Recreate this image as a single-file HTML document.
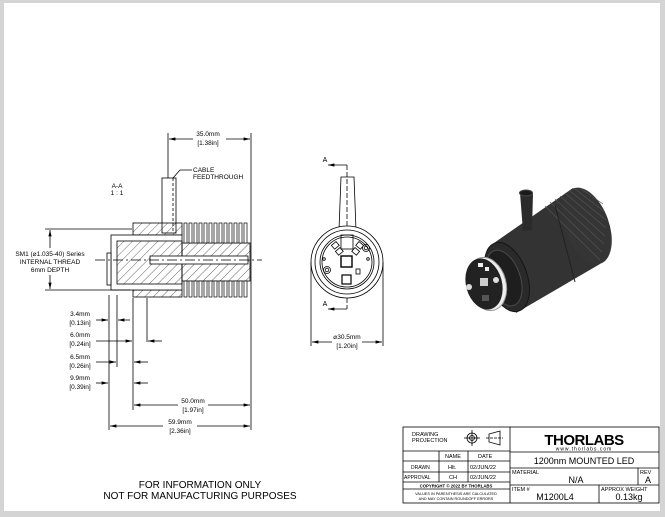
<!DOCTYPE html>
<html><head><meta charset="utf-8"><style>
html,body{margin:0;padding:0;background:#c8c8c8;}
svg{display:block;font-family:"Liberation Sans",sans-serif;}
</style></head><body>
<svg width="665" height="517" viewBox="0 0 665 517" xmlns="http://www.w3.org/2000/svg">
<rect x="0" y="0" width="665" height="517" fill="#d4d4d4"/>
<rect x="4" y="3" width="656" height="508" fill="#fff"/>
<defs>
<pattern id="h" width="6" height="6" patternUnits="userSpaceOnUse" patternTransform="rotate(45)"><line x1="0" y1="0" x2="0" y2="6" stroke="#000" stroke-width="0.6"/></pattern>
<marker id="ar" markerWidth="8" markerHeight="6" refX="8" refY="3" orient="auto"><path d="M0,1 L8,3 L0,5z" fill="#000"/></marker>
</defs>
<g stroke="#000" fill="none" stroke-width="0.8">
<line x1="168" y1="133" x2="168" y2="225"/><line x1="251" y1="133" x2="251" y2="430"/>
<line x1="193" y1="139" x2="169" y2="139" marker-end="url(#ar)"/><line x1="226" y1="139" x2="250" y2="139" marker-end="url(#ar)"/>
<rect x="162" y="178" width="14" height="55" fill="#fff"/>
<line x1="173" y1="178" x2="173" y2="233" stroke-dasharray="3,2"/>
<polyline points="173,178 180,170 192,170"/>
<rect x="133" y="223" width="49" height="12" fill="url(#h)"/>
<rect x="133" y="290" width="49" height="7" fill="url(#h)"/>
<rect x="111" y="235" width="71" height="55" fill="#fff"/>
<rect x="117" y="241" width="65" height="43" fill="url(#h)"/>
<rect x="107" y="253" width="4" height="32" fill="#fff"/>
<rect x="182" y="243" width="68" height="38" fill="url(#h)"/>
<rect x="150" y="256" width="98" height="8" fill="#fff"/>
<line x1="95" y1="260" x2="262" y2="260" stroke-dasharray="10,3,2,3"/>
</g>
<g stroke="#000" stroke-width="0.7" fill="#fff">
<rect x="184" y="223" width="3" height="20"/><rect x="189" y="223" width="3" height="20"/><rect x="194" y="223" width="3" height="20"/><rect x="199" y="223" width="3" height="20"/><rect x="204" y="223" width="3" height="20"/><rect x="209" y="223" width="3" height="20"/><rect x="214" y="223" width="3" height="20"/><rect x="219" y="223" width="3" height="20"/><rect x="224" y="223" width="3" height="20"/><rect x="229" y="223" width="3" height="20"/><rect x="234" y="223" width="3" height="20"/><rect x="239" y="223" width="3" height="20"/><rect x="244" y="223" width="3" height="20"/>
<rect x="184" y="281" width="3" height="16"/><rect x="189" y="281" width="3" height="16"/><rect x="194" y="281" width="3" height="16"/><rect x="199" y="281" width="3" height="16"/><rect x="204" y="281" width="3" height="16"/><rect x="209" y="281" width="3" height="16"/><rect x="214" y="281" width="3" height="16"/><rect x="219" y="281" width="3" height="16"/><rect x="224" y="281" width="3" height="16"/><rect x="229" y="281" width="3" height="16"/><rect x="234" y="281" width="3" height="16"/><rect x="239" y="281" width="3" height="16"/><rect x="244" y="281" width="3" height="16"/>
</g>
<g stroke="#000" fill="none" stroke-width="0.8">
<line x1="45" y1="229" x2="132" y2="229"/><line x1="45" y1="290" x2="130" y2="290"/>
<line x1="50" y1="248" x2="50" y2="230" marker-end="url(#ar)"/><line x1="50" y1="275" x2="50" y2="289" marker-end="url(#ar)"/>
<line x1="109" y1="295" x2="109" y2="430"/><line x1="117" y1="295" x2="117" y2="367"/>
<line x1="133" y1="298" x2="133" y2="410"/><line x1="147" y1="298" x2="147" y2="342"/>
<line x1="96" y1="320" x2="108" y2="320" marker-end="url(#ar)"/><line x1="130" y1="320" x2="118" y2="320" marker-end="url(#ar)"/>
<line x1="96" y1="341" x2="132" y2="341" marker-end="url(#ar)"/><line x1="162" y1="341" x2="148" y2="341" marker-end="url(#ar)"/>
<line x1="96" y1="362" x2="116" y2="362" marker-end="url(#ar)"/><line x1="148" y1="362" x2="134" y2="362" marker-end="url(#ar)"/>
<line x1="96" y1="383" x2="108" y2="383" marker-end="url(#ar)"/><line x1="148" y1="383" x2="134" y2="383" marker-end="url(#ar)"/>
<line x1="178" y1="405" x2="134" y2="405" marker-end="url(#ar)"/><line x1="208" y1="405" x2="250" y2="405" marker-end="url(#ar)"/>
<line x1="163" y1="426" x2="110" y2="426" marker-end="url(#ar)"/><line x1="197" y1="426" x2="250" y2="426" marker-end="url(#ar)"/>
<path d="M341 177 L354 177 L356 230 L339 230 Z" fill="#fff"/>
<line x1="347" y1="165" x2="347" y2="309" stroke-dasharray="5,2"/>
<line x1="347" y1="165" x2="328" y2="165" marker-end="url(#ar)"/><line x1="347" y1="309" x2="328" y2="309" marker-end="url(#ar)"/>
<circle cx="347" cy="262" r="36" fill="#fff"/><circle cx="347" cy="262" r="32"/>
<circle cx="347" cy="262" r="27"/><circle cx="347" cy="262" r="25"/>
<rect x="341" y="235" width="12" height="14"/>
<rect x="332" y="243" width="6" height="5" transform="rotate(-40 335 245)"/><rect x="357" y="243" width="6" height="5" transform="rotate(40 360 245)"/>
<rect x="336" y="249" width="6" height="5" transform="rotate(-40 339 251)"/><rect x="353" y="249" width="6" height="5" transform="rotate(40 356 251)"/>
<rect x="341" y="256" width="11" height="11" stroke-width="1.4"/>
<rect x="342" y="275" width="9" height="9" stroke-width="1.2"/>
<rect x="356" y="269" width="4" height="5"/>
<circle cx="366" cy="248" r="3.5"/><circle cx="366" cy="248" r="1.8"/>
<circle cx="327" cy="270" r="3.5"/><circle cx="327" cy="270" r="1.8"/>
<circle cx="324" cy="259" r="1.3"/><circle cx="368" cy="259" r="1.3"/>
<line x1="311" y1="262" x2="311" y2="346"/><line x1="383" y1="262" x2="383" y2="346"/>
<line x1="332" y1="342" x2="312" y2="342" marker-end="url(#ar)"/><line x1="362" y1="342" x2="382" y2="342" marker-end="url(#ar)"/>
</g>
<!-- 3D -->
<g>
<path d="M494 243 L573 188 L600 264 L516 313 Z" fill="#333"/>
<ellipse cx="587" cy="226" rx="22" ry="40" transform="rotate(-20 587 226)" fill="#353535"/>
<g stroke="#555" stroke-width="0.6" fill="none">
<path d="M545 206 L600 260 M550 202 L602 252 M555 199 L604 244 M560 196 L605 236 M565 193 L606 228 M570 191 L606 220 M575 189 L605 212 M580 188 L603 204"/>
</g>
<line x1="555" y1="205" x2="575" y2="282" stroke="#222" stroke-width="1"/>
<ellipse cx="507" cy="277" rx="20" ry="36" transform="rotate(-20 507 277)" fill="#2a2a2a" stroke="#151515"/>
<ellipse cx="504" cy="278" rx="16" ry="29" transform="rotate(-20 504 278)" fill="#1e1e1e" stroke="#4a4a4a"/>
<path d="M520 193 L533 193 L532 230 L523 231 Z" fill="#2b2b2b"/>
<ellipse cx="526" cy="193" rx="6.5" ry="3" fill="#1a1a1a" stroke="#444"/>
<ellipse cx="487" cy="284" rx="19" ry="27" transform="rotate(-15 487 284)" fill="#eee" stroke="#999"/>
<ellipse cx="484" cy="284" rx="18" ry="26" transform="rotate(-15 484 284)" fill="#222"/>
<rect x="480" y="278" width="8" height="8" fill="#ccc"/>
<rect x="482" y="295" width="7" height="6" fill="#555"/>
<rect x="478" y="263" width="5" height="4" fill="#eee"/><rect x="485" y="267" width="4" height="4" fill="#eee"/>
<circle cx="469" cy="287" r="3" fill="#ddd"/><circle cx="496" cy="280" r="3" fill="#ddd"/>
</g>
<g font-size="6.5" fill="#000" text-anchor="middle">
<text x="208" y="136">35.0mm</text><text x="208" y="145">[1.38in]</text>
<text x="117" y="188">A-A</text><text x="117" y="195">1 : 1</text>
<text x="50" y="256">SM1 (⌀1.035-40) Series</text><text x="50" y="264">INTERNAL THREAD</text><text x="50" y="272">6mm DEPTH</text>
<text x="80" y="316">3.4mm</text><text x="80" y="325">[0.13in]</text>
<text x="80" y="337">6.0mm</text><text x="80" y="346">[0.24in]</text>
<text x="80" y="359">6.5mm</text><text x="80" y="368">[0.26in]</text>
<text x="80" y="380">9.9mm</text><text x="80" y="389">[0.39in]</text>
<text x="193" y="403">50.0mm</text><text x="193" y="412">[1.97in]</text>
<text x="180" y="424">59.9mm</text><text x="180" y="433">[2.36in]</text>
<text x="347" y="339">⌀30.5mm</text><text x="347" y="348">[1.20in]</text>
<text x="325" y="162" font-size="7">A</text><text x="325" y="306" font-size="7">A</text>
</g>
<g font-size="6.5" fill="#000"><text x="193" y="172">CABLE</text><text x="193" y="179">FEEDTHROUGH</text></g>
<g font-size="10" text-anchor="middle" fill="#000">
<text x="200" y="488">FOR INFORMATION ONLY</text><text x="200" y="499">NOT FOR MANUFACTURING PURPOSES</text>
</g>
<g stroke="#000" fill="none" stroke-width="0.8">
<rect x="403" y="427" width="256" height="76" fill="#fff"/>
<line x1="510" y1="427" x2="510" y2="503"/>
<line x1="403" y1="451" x2="510" y2="451"/><line x1="403" y1="461" x2="510" y2="461"/>
<line x1="403" y1="472" x2="510" y2="472"/><line x1="403" y1="482" x2="510" y2="482"/><line x1="403" y1="489" x2="510" y2="489"/>
<line x1="439" y1="451" x2="439" y2="482"/><line x1="468" y1="451" x2="468" y2="482"/>
<line x1="510" y1="452" x2="659" y2="452"/><line x1="510" y1="468" x2="659" y2="468"/><line x1="510" y1="485" x2="659" y2="485"/>
<line x1="638" y1="468" x2="638" y2="485"/><line x1="599" y1="485" x2="599" y2="503"/>
<circle cx="472" cy="438" r="5"/><circle cx="472" cy="438" r="2.5"/><line x1="464" y1="438" x2="480" y2="438"/><line x1="472" y1="430" x2="472" y2="446"/>
<path d="M489 434 L500 431 L500 445 L489 442 Z"/><line x1="486" y1="438" x2="503" y2="438" stroke-dasharray="3,1"/>
</g>
<g fill="#000" font-size="5.5">
<text x="412" y="436">DRAWING</text><text x="412" y="442">PROJECTION</text>
<text x="445" y="458">NAME</text><text x="478" y="458">DATE</text>
<text x="411" y="469" font-size="5">DRAWN</text><text x="448" y="469">Hlt.</text><text x="470" y="469">02/JUN/22</text>
<text x="404" y="479" font-size="5">APPROVAL</text><text x="449" y="479">CH</text><text x="470" y="479">02/JUN/22</text>
<text x="456" y="487.5" font-size="4.3" font-weight="bold" text-anchor="middle">COPYRIGHT © 2022 BY THORLABS</text>
<text x="456" y="495" font-size="3.8" text-anchor="middle">VALUES IN PARENTHESIS ARE CALCULATED</text>
<text x="456" y="500" font-size="3.8" text-anchor="middle">AND MAY CONTAIN ROUNDOFF ERRORS</text>
<text x="512" y="474">MATERIAL</text><text x="640" y="474">REV</text>
<text x="512" y="491">ITEM #</text><text x="601" y="491">APPROX WEIGHT</text>
</g>
<g fill="#000" text-anchor="middle">
<text x="584" y="445" font-size="15" font-weight="bold" letter-spacing="-0.5">THORLABS</text>
<text x="584" y="450.5" font-size="5" letter-spacing="1">www.thorlabs.com</text>
<text x="584" y="464" font-size="9">1200nm MOUNTED LED</text>
<text x="576" y="483" font-size="9">N/A</text><text x="648" y="483" font-size="9">A</text>
<text x="555" y="500" font-size="9">M1200L4</text><text x="629" y="500" font-size="9">0.13kg</text>
</g>
</svg>
</body></html>
